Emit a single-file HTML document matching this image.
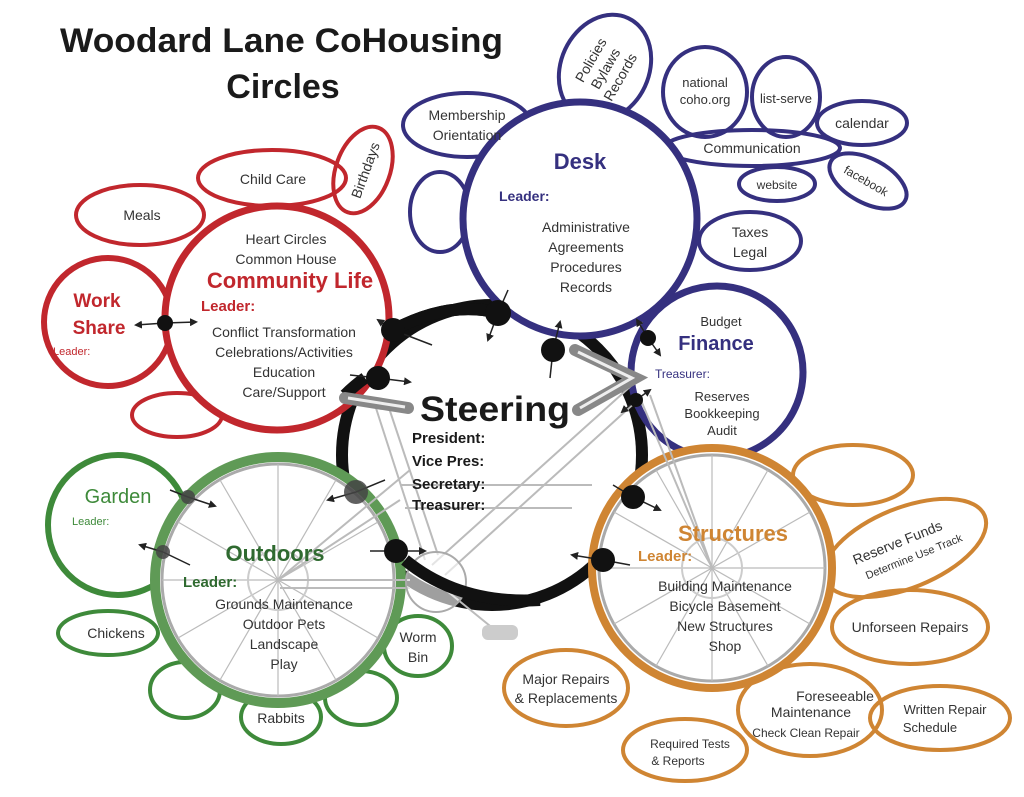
<!DOCTYPE html>
<html><head><meta charset="utf-8"><style>
html,body{margin:0;padding:0;background:#fff;}
svg{display:block;font-family:"Liberation Sans",sans-serif;}
</style></head><body>
<svg width="1024" height="797" viewBox="0 0 1024 797" xmlns="http://www.w3.org/2000/svg">
<defs>
<marker id="ah" markerWidth="8" markerHeight="8" refX="6" refY="4" orient="auto" markerUnits="userSpaceOnUse"><path d="M0,0 L8,4 L0,8 Z" fill="#222"/></marker>
</defs>
<rect width="1024" height="797" fill="#fff"/>
<!-- Title -->
<text x="60" y="52" font-size="34" font-weight="bold" fill="#1a1a1a" textLength="443" lengthAdjust="spacingAndGlyphs">Woodard Lane CoHousing</text>
<text x="283" y="98" font-size="34" font-weight="bold" fill="#1a1a1a" text-anchor="middle">Circles</text>

<!-- Steering black ring (behind main circles) -->
<circle cx="492" cy="455" r="150" fill="none" stroke="#111" stroke-width="12"/>
<path d="M393,330 Q450,300 498,313" fill="none" stroke="#111" stroke-width="12"/>

<!-- Red satellites -->
<g fill="none" stroke="#c1272d" stroke-width="4">
<ellipse cx="140" cy="215" rx="64" ry="30"/>
<ellipse cx="272" cy="178" rx="74" ry="28"/>
<ellipse cx="363" cy="170" rx="27" ry="45" transform="rotate(20 363 170)"/>
<ellipse cx="177" cy="415" rx="45" ry="22"/>
<circle cx="108" cy="322" r="64" stroke-width="6"/>
</g>
<!-- Purple satellites -->
<g fill="none" stroke="#35307f" stroke-width="4">
<ellipse cx="467" cy="125" rx="64" ry="32"/>
<ellipse cx="605" cy="68" rx="44" ry="55" transform="rotate(25 605 68)"/>
<ellipse cx="705" cy="92" rx="42" ry="45"/>
<ellipse cx="786" cy="97" rx="34" ry="40"/>
<ellipse cx="862" cy="123" rx="45" ry="22"/>
<ellipse cx="752" cy="148" rx="88" ry="18"/>
<ellipse cx="777" cy="184" rx="38" ry="17"/>
<ellipse cx="868" cy="181" rx="42" ry="22" transform="rotate(28 868 181)"/>
<ellipse cx="440" cy="212" rx="30" ry="40"/>
<ellipse cx="750" cy="241" rx="51" ry="29"/>
</g>
<!-- Orange satellites -->
<g fill="none" stroke="#cf8533" stroke-width="4">
<ellipse cx="853" cy="475" rx="60" ry="30"/>
<ellipse cx="905" cy="548" rx="86" ry="40" transform="rotate(-22 905 548)"/>
<ellipse cx="910" cy="627" rx="78" ry="37"/>
<ellipse cx="566" cy="688" rx="62" ry="38"/>
<ellipse cx="940" cy="718" rx="70" ry="32"/>
<ellipse cx="685" cy="750" rx="62" ry="31"/>
<ellipse cx="810" cy="710" rx="72" ry="46"/>
</g>
<!-- Green satellites -->
<g fill="none" stroke="#3e8a3a" stroke-width="4">
<ellipse cx="108" cy="633" rx="50" ry="22"/>
<ellipse cx="185" cy="690" rx="35" ry="28"/>
<ellipse cx="281" cy="717" rx="40" ry="27"/>
<ellipse cx="361" cy="698" rx="36" ry="27"/>
<ellipse cx="418" cy="646" rx="34" ry="30"/>
<circle cx="118" cy="525" r="70" stroke-width="6"/>
</g>

<!-- Main circles -->
<circle cx="277" cy="318" r="112" fill="#fff" stroke="#c1272d" stroke-width="7"/>
<circle cx="580" cy="219" r="117" fill="#fff" stroke="#35307f" stroke-width="7"/>
<circle cx="717" cy="372" r="86" fill="#fff" stroke="#35307f" stroke-width="7"/>
<path d="M393,330 Q450,300 498,313" fill="none" stroke="#111" stroke-width="12"/>
<path d="M345,395 A150,150 0 0 1 365,378" fill="none" stroke="#111" stroke-width="12"/>

<!-- Outdoors wheel -->
<circle cx="278" cy="580" r="123" fill="#fff" stroke="#5f9a56" stroke-width="10"/>
<circle cx="278" cy="580" r="116" fill="none" stroke="#aaa" stroke-width="3"/>
<g stroke="#bbb" stroke-width="1.2">
<line x1="278" y1="464" x2="278" y2="696"/><line x1="162" y1="580" x2="394" y2="580"/>
<line x1="220" y1="480" x2="336" y2="680"/><line x1="336" y1="480" x2="220" y2="680"/>
<line x1="178" y1="522" x2="378" y2="638"/><line x1="378" y1="522" x2="178" y2="638"/>
</g>
<circle cx="278" cy="580" r="30" fill="none" stroke="#ccc" stroke-width="2"/>
<!-- Structures wheel -->
<circle cx="712" cy="568" r="120" fill="#fff" stroke="#cf8533" stroke-width="8"/>
<circle cx="712" cy="568" r="113" fill="none" stroke="#aaa" stroke-width="3"/>
<g stroke="#bbb" stroke-width="1.2">
<line x1="712" y1="455" x2="712" y2="681"/><line x1="599" y1="568" x2="825" y2="568"/>
<line x1="656" y1="470" x2="768" y2="666"/><line x1="768" y1="470" x2="656" y2="666"/>
<line x1="614" y1="512" x2="810" y2="624"/><line x1="810" y1="512" x2="614" y2="624"/>
</g>
<circle cx="712" cy="568" r="30" fill="none" stroke="#ccc" stroke-width="2"/>

<!-- bike frame -->
<g stroke="#bbb" stroke-width="2" fill="none">
<line x1="375" y1="405" x2="425" y2="560"/><line x1="388" y1="405" x2="438" y2="555"/>
<line x1="632" y1="385" x2="432" y2="565"/><line x1="640" y1="398" x2="445" y2="575"/>
<line x1="400" y1="485" x2="592" y2="485"/><line x1="405" y1="508" x2="572" y2="508"/>
<line x1="280" y1="580" x2="410" y2="580"/><line x1="280" y1="588" x2="410" y2="588"/>
<line x1="278" y1="580" x2="410" y2="470"/><line x1="278" y1="580" x2="400" y2="500"/>
<line x1="712" y1="568" x2="640" y2="398"/><line x1="712" y1="568" x2="650" y2="395"/>
<line x1="436" y1="582" x2="495" y2="630"/>
</g>
<circle cx="436" cy="582" r="30" fill="#fff" fill-opacity="0.6" stroke="#aaa" stroke-width="2"/>
<path d="M405,560 Q460,605 540,600" stroke="#111" stroke-width="12" fill="none"/>
<rect x="482" y="625" width="36" height="15" rx="6" fill="#ccc"/>
<!-- handlebars -->
<g stroke="#888" stroke-width="12" stroke-linecap="round" fill="none">
<line x1="345" y1="398" x2="408" y2="408"/>
<polyline points="575,350 635,378 578,410"/>
</g>
<g stroke="#eee" stroke-width="3" fill="none">
<line x1="348" y1="398" x2="405" y2="407"/>
<polyline points="578,352 632,378 580,408"/>
</g>

<!-- connectors -->
<g stroke="#222" stroke-width="1.5" marker-end="url(#ah)">
<line x1="165" y1="323" x2="136" y2="325"/><line x1="165" y1="323" x2="196" y2="322"/>
<line x1="393" y1="330" x2="378" y2="320"/>
<line x1="498" y1="313" x2="488" y2="340"/>
<line x1="553" y1="350" x2="560" y2="322"/>
<line x1="378" y1="378" x2="410" y2="382"/>
<line x1="648" y1="338" x2="637" y2="320"/><line x1="648" y1="338" x2="660" y2="355"/>
<line x1="636" y1="400" x2="622" y2="412"/><line x1="636" y1="400" x2="650" y2="390"/>
<line x1="633" y1="497" x2="660" y2="510"/>
<line x1="603" y1="560" x2="572" y2="555"/>
<line x1="356" y1="492" x2="328" y2="500"/>
<line x1="396" y1="551" x2="425" y2="551"/>
<line x1="163" y1="552" x2="140" y2="545"/>
<line x1="188" y1="497" x2="215" y2="506"/>
</g>
<g stroke="#222" stroke-width="1.5">
<line x1="393" y1="330" x2="432" y2="345"/><line x1="498" y1="313" x2="508" y2="290"/>
<line x1="553" y1="350" x2="550" y2="378"/><line x1="378" y1="378" x2="350" y2="375"/>
<line x1="633" y1="497" x2="613" y2="485"/><line x1="603" y1="560" x2="630" y2="565"/>
<line x1="356" y1="492" x2="385" y2="480"/><line x1="396" y1="551" x2="370" y2="551"/>
<line x1="163" y1="552" x2="190" y2="565"/><line x1="188" y1="497" x2="170" y2="490"/>
</g>
<g fill="#111">
<circle cx="165" cy="323" r="8"/><circle cx="393" cy="330" r="12"/><circle cx="498" cy="313" r="13"/>
<circle cx="553" cy="350" r="12"/><circle cx="378" cy="378" r="12"/><circle cx="648" cy="338" r="8"/>
<circle cx="636" cy="400" r="7"/><circle cx="633" cy="497" r="12"/><circle cx="603" cy="560" r="12"/>
<circle cx="396" cy="551" r="12"/>
</g>
<g fill="#444" fill-opacity="0.85">
<circle cx="356" cy="492" r="12"/><circle cx="188" cy="497" r="7"/><circle cx="163" cy="552" r="7"/>
</g>

<!-- Texts: red -->
<g fill="#333" font-size="14" text-anchor="middle">
<text x="142" y="220">Meals</text>
<text x="273" y="184">Child Care</text>
<text x="370" y="172" transform="rotate(-70 370 172)">Birthdays</text>
<text x="286" y="244">Heart Circles</text>
<text x="286" y="264">Common House</text>
<text x="284" y="337">Conflict Transformation</text>
<text x="284" y="357">Celebrations/Activities</text>
<text x="284" y="377">Education</text>
<text x="284" y="397">Care/Support</text>
</g>
<text x="290" y="288" fill="#c1272d" font-size="22" font-weight="bold" text-anchor="middle">Community Life</text>
<text x="201" y="311" fill="#c1272d" font-size="15" font-weight="bold">Leader:</text>
<text x="97" y="307" fill="#c1272d" font-size="19" font-weight="bold" text-anchor="middle">Work</text>
<text x="99" y="334" fill="#c1272d" font-size="19" font-weight="bold" text-anchor="middle">Share</text>
<text x="53" y="355" fill="#c1272d" font-size="11">Leader:</text>

<!-- purple -->
<g fill="#333" font-size="14" text-anchor="middle">
<text x="467" y="120">Membership</text><text x="467" y="140">Orientation</text>
<g transform="rotate(-60 608 70)"><text x="608" y="55">Policies</text><text x="608" y="72">Bylaws</text><text x="608" y="89">Records</text></g>
<text x="705" y="87" font-size="13">national</text><text x="705" y="104" font-size="13">coho.org</text>
<text x="786" y="103" font-size="13">list-serve</text>
<text x="862" y="128">calendar</text>
<text x="752" y="153">Communication</text>
<text x="777" y="189" font-size="12">website</text>
<text x="866" y="185" font-size="12" transform="rotate(30 866 181)">facebook</text>
<text x="750" y="237">Taxes</text><text x="750" y="257">Legal</text>
<text x="586" y="232">Administrative</text><text x="586" y="252">Agreements</text>
<text x="586" y="272">Procedures</text><text x="586" y="292">Records</text>
<text x="721" y="326" font-size="13">Budget</text>
<text x="722" y="401" font-size="13">Reserves</text><text x="722" y="418" font-size="13">Bookkeeping</text><text x="722" y="435" font-size="13">Audit</text>
</g>
<text x="580" y="169" fill="#35307f" font-size="22" font-weight="bold" text-anchor="middle">Desk</text>
<text x="499" y="201" fill="#35307f" font-size="14" font-weight="bold">Leader:</text>
<text x="716" y="350" fill="#35307f" font-size="20" font-weight="bold" text-anchor="middle">Finance</text>
<text x="655" y="378" fill="#35307f" font-size="12">Treasurer:</text>

<!-- steering -->
<text x="495" y="421" fill="#1a1a1a" font-size="35" font-weight="bold" text-anchor="middle" textLength="150" lengthAdjust="spacingAndGlyphs">Steering</text>
<g fill="#1a1a1a" font-size="15" font-weight="bold">
<text x="412" y="443">President:</text><text x="412" y="466">Vice Pres:</text>
<text x="412" y="489">Secretary:</text><text x="412" y="510">Treasurer:</text>
</g>

<!-- green -->
<text x="118" y="503" fill="#3e8a3a" font-size="20" text-anchor="middle">Garden</text>
<text x="72" y="525" fill="#3e8a3a" font-size="11">Leader:</text>
<text x="275" y="561" fill="#2f6a30" font-size="22" font-weight="bold" text-anchor="middle">Outdoors</text>
<text x="183" y="587" fill="#2f6a30" font-size="15" font-weight="bold">Leader:</text>
<g fill="#333" font-size="14" text-anchor="middle">
<text x="284" y="609">Grounds Maintenance</text><text x="284" y="629">Outdoor Pets</text>
<text x="284" y="649">Landscape</text><text x="284" y="669">Play</text>
<text x="116" y="638">Chickens</text><text x="281" y="723">Rabbits</text>
<text x="418" y="642">Worm</text><text x="418" y="662">Bin</text>
</g>

<!-- orange -->
<text x="733" y="541" fill="#cf8533" font-size="22" font-weight="bold" text-anchor="middle">Structures</text>
<text x="638" y="561" fill="#cf8533" font-size="15" font-weight="bold">Leader:</text>
<g fill="#333" font-size="14" text-anchor="middle">
<text x="725" y="591">Building Maintenance</text><text x="725" y="611">Bicycle Basement</text>
<text x="725" y="631">New Structures</text><text x="725" y="651">Shop</text>
<text x="910" y="632">Unforseen Repairs</text>
<text x="566" y="684">Major Repairs</text><text x="566" y="703">&amp; Replacements</text>
<text x="835" y="701">Foreseeable</text><text x="811" y="717">Maintenance</text>
<text x="806" y="737" font-size="12">Check  Clean  Repair</text>
<text x="945" y="714" font-size="13">Written Repair</text><text x="930" y="732" font-size="13">Schedule</text>
<text x="690" y="748" font-size="12">Required Tests</text><text x="678" y="765" font-size="12">&amp; Reports</text>
<g transform="rotate(-22 905 548)"><text x="900" y="545" font-size="14">Reserve Funds</text><text x="910" y="563" font-size="11">Determine  Use  Track</text></g>
</g>
</svg>
</body></html>
